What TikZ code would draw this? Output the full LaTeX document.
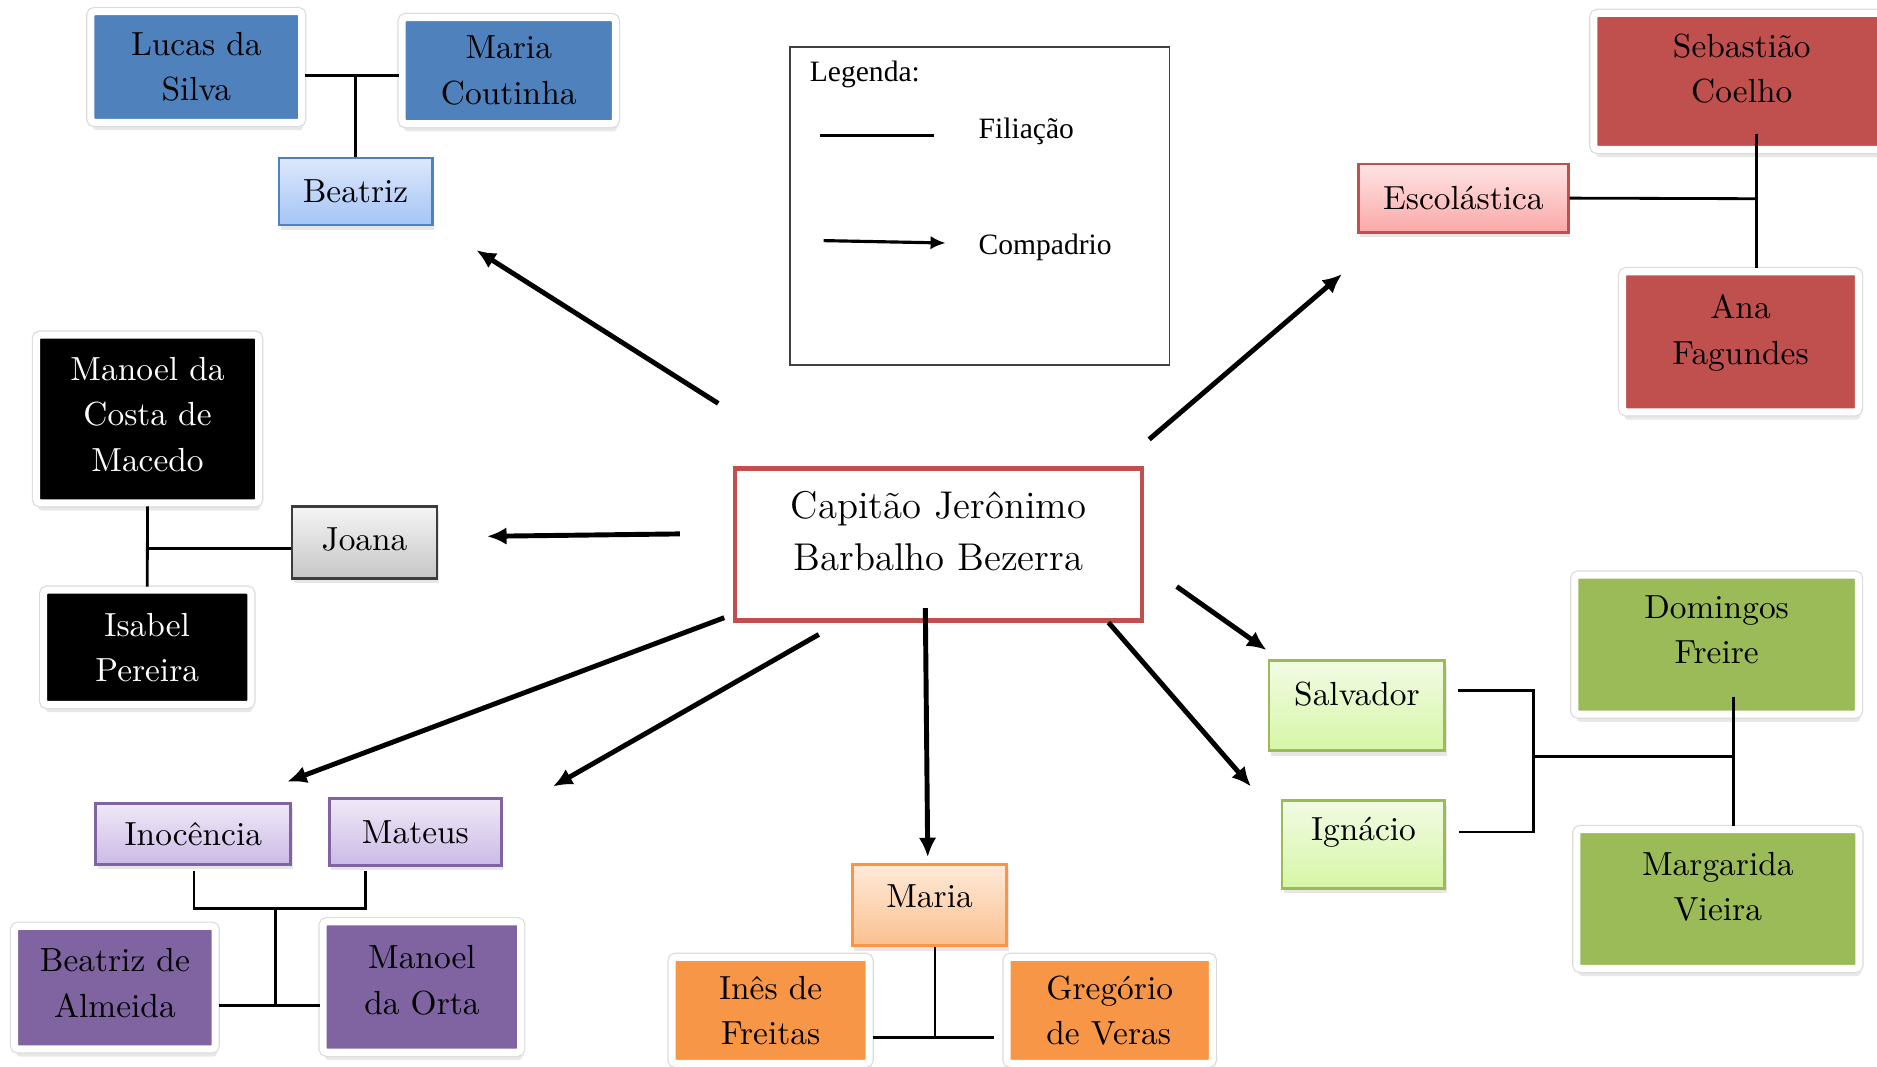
\documentclass[tikz,border=0pt]{standalone}
\usepackage{fontspec}
\newfontfamily\legfont{Liberation Serif}
\usetikzlibrary{arrows.meta,shadows}

\newlength\pxu
\setlength\pxu{0.01197cm}

\definecolor{azul}{RGB}{79,129,189}
\definecolor{azulA}{RGB}{221,232,251}
\definecolor{azulB}{RGB}{165,196,246}
\definecolor{vermelho}{RGB}{192,80,77}
\definecolor{vermelhoA}{RGB}{255,228,228}
\definecolor{vermelhoB}{RGB}{250,168,168}
\definecolor{cinza}{RGB}{60,60,60}
\definecolor{cinzaA}{RGB}{245,245,245}
\definecolor{cinzaB}{RGB}{198,198,198}
\definecolor{verde}{RGB}{155,187,89}
\definecolor{verdeA}{RGB}{242,251,228}
\definecolor{verdeB}{RGB}{214,246,166}
\definecolor{roxo}{RGB}{128,100,162}
\definecolor{roxoA}{RGB}{240,233,248}
\definecolor{roxoB}{RGB}{203,186,230}
\definecolor{laranja}{RGB}{247,150,70}
\definecolor{laranjaA}{RGB}{255,234,217}
\definecolor{laranjaB}{RGB}{250,192,143}

\tikzset{
    nome/.style={align=center, inner sep=2pt, font=\fontsize{9.5}{12.9}\selectfont},
    pessoa/.style={nome, rectangle, draw=white, line width=2pt, rounded corners=1pt,
        drop shadow={shadow xshift=0.5pt, shadow yshift=-2.2pt, opacity=0.18},
        preaction={draw=black!14, line width=2.7pt}},
    filho/.style={nome, rectangle, draw=#1, line width=0.8pt, top color=#1A, bottom color=#1B,
        drop shadow={shadow xshift=0.5pt, shadow yshift=-1.4pt, opacity=0.2}},
    sobe/.style={text depth=#1},
    filiacao/.style={line width=0.8pt},
    compadrio/.style={line width=1.4pt, -{Latex[length=5.5pt,width=5pt]}},
    legtexto/.style={anchor=west, inner sep=0pt, font=\legfont\fontsize{8.4}{10}\selectfont}
}

\begin{document}
\begin{tikzpicture}[x=0.01197cm, y=-0.01197cm]
    \useasboundingbox (0,0) rectangle (1568,891);
    \clip (0,0) rectangle (1568,891);

    % legenda
    \node[draw=black!75, line width=0.5pt, minimum width=317\pxu, minimum height=266\pxu] (legenda) at (818.5,172) {};
    \node[legtexto] (leg) at (676,62) {Legenda:};
    \node[legtexto] (fil) at (817,110) {Filiação};
    \node[legtexto] (comp) at (817,207) {Compadrio};
    \draw[filiacao] (685,113) -- (780,113);
    \draw[line width=0.9pt, -{Latex[length=4.3pt,width=3.8pt]}] (688,201) -- (790,203);

    % Beatriz
    \node[pessoa, fill=azul, minimum width=176\pxu, minimum height=92.5\pxu] (lucas) at (164,56) {Lucas da\\Silva};
    \node[pessoa, fill=azul, minimum width=178\pxu, minimum height=88.5\pxu] (mariac) at (425,59) {Maria\\Coutinha};
    \node[filho=azul, minimum width=128\pxu, minimum height=56\pxu] (beatriz) at (297,160) {Beatriz};
    \coordinate (casal1) at (297,63);
    \draw[filiacao] (lucas.east |- casal1) -- (mariac.west |- casal1);
    \draw[filiacao] (casal1) -- (beatriz.north);

    % Escolastica
    \node[pessoa, fill=vermelho, minimum width=247\pxu, minimum height=113.5\pxu, sobe=7.5pt] (sebastiao) at (1455,68) {Sebastião\\Coelho};
    \node[filho=vermelho, minimum width=175\pxu, minimum height=57\pxu] (escolastica) at (1222.5,165.5) {Escolástica};
    \node[pessoa, fill=vermelho, minimum width=197\pxu, minimum height=117\pxu, sobe=7pt] (ana) at (1454,285.5) {Ana\\Fagundes};
    \coordinate (pais2) at (1467,112);
    \coordinate (casal2) at (1467,166);
    \draw[filiacao] (pais2) -- (pais2 |- ana.north);
    \draw[filiacao] (escolastica.east) -- (casal2);

    % Joana
    \node[pessoa, fill=black, text=white, minimum width=185.5\pxu, minimum height=140\pxu, sobe=2.7pt] (manoelcm) at (123.25,350) {Manoel da\\Costa de\\Macedo};
    \node[filho=cinza, minimum width=121\pxu, minimum height=60\pxu, sobe=2pt] (joana) at (304.5,453) {Joana};
    \node[pessoa, fill=black, text=white, minimum width=173\pxu, minimum height=95.5\pxu] (isabel) at (123,540.75) {Isabel\\Pereira};
    \coordinate (casal3) at (123,458);
    \draw[filiacao] (manoelcm.south) -- (isabel.north);
    \draw[filiacao] (casal3) -- (casal3 -| joana.west);

    % capitao
    \node[draw=vermelho, line width=1.4pt, fill=white, minimum width=340\pxu, minimum height=127\pxu, align=center,
        font=\fontsize{11}{14.6}\selectfont, sobe=7.5pt] (capitao) at (784,454.5) {Capitão Jerônimo\\Barbalho Bezerra};

    % Salvador e Ignacio
    \node[filho=verde, minimum width=147\pxu, minimum height=75\pxu, sobe=7pt] (salvador) at (1133.5,589.5) {Salvador};
    \node[filho=verde, minimum width=136\pxu, minimum height=73\pxu, sobe=8.8pt] (ignacio) at (1139,705.5) {Ignácio};
    \node[pessoa, fill=verde, minimum width=237\pxu, minimum height=116\pxu, sobe=8.5pt] (domingos) at (1434,538.5) {Domingos\\Freire};
    \node[pessoa, fill=verde, minimum width=235.5\pxu, minimum height=116\pxu, sobe=7pt] (margarida) at (1435,751) {Margarida\\Vieira};
    \coordinate (irmao1) at (1218,577);
    \coordinate (irmao2) at (1219,695);
    \coordinate (irmaos) at (1281,632);
    \coordinate (pais4) at (1448,582);
    \draw[filiacao] (irmao1) -| (irmaos) |- (irmao2);
    \draw[filiacao] (irmaos) -- (irmaos -| pais4);
    \draw[filiacao] (pais4) -- (pais4 |- margarida.north);

    % Inocencia e Mateus
    \node[filho=roxo, minimum width=163\pxu, minimum height=51\pxu] (inocencia) at (161.5,696.5) {Inocência};
    \node[filho=roxo, minimum width=144\pxu, minimum height=56\pxu] (mateus) at (347,695) {Mateus};
    \node[pessoa, fill=roxo, minimum width=167.5\pxu, minimum height=102.5\pxu, sobe=2.7pt] (beatrizalm) at (96,825) {Beatriz de\\Almeida};
    \node[pessoa, fill=roxo, minimum width=165\pxu, minimum height=109\pxu, sobe=4pt] (manoelorta) at (352.5,824.5) {Manoel\\da Orta};
    \coordinate (irmao3) at (162,728);
    \coordinate (irmao4) at (305,728);
    \coordinate (filhos5) at (230,759);
    \coordinate (casal5) at (230,840);
    \draw[filiacao] (irmao3) |- (filhos5) -| (irmao4);
    \draw[filiacao] (filhos5) -- (casal5);
    \draw[filiacao] (beatrizalm.east |- casal5) -- (manoelorta.west |- casal5);

    % Maria
    \node[filho=laranja, minimum width=129\pxu, minimum height=68\pxu, sobe=4.8pt] (maria) at (776.5,756) {Maria};
    \node[pessoa, fill=laranja, minimum width=164.5\pxu, minimum height=88.5\pxu] (ines) at (643.75,844) {Inês de\\Freitas};
    \node[pessoa, fill=laranja, minimum width=171.5\pxu, minimum height=88.5\pxu, align=left, xshift=-4\pxu] (gregorio) at (931,844) {Gregório\\de Veras};
    \coordinate (casal6) at (781,867);
    \draw[filiacao] (maria.south -| casal6) -- (casal6);
    \draw[filiacao, shorten >=2.7pt] (ines.east |- casal6) -- (gregorio.west |- casal6);

    % compadrio
    \coordinate (s1) at (600,337);  \coordinate (e1) at (398,209);
    \coordinate (s2) at (960,367);  \coordinate (e2) at (1121,229);
    \coordinate (s3) at (568,446);  \coordinate (e3) at (407,448);
    \coordinate (s4) at (983,490);  \coordinate (e4) at (1058,543);
    \coordinate (s5) at (926,520);  \coordinate (e5) at (1045,657);
    \coordinate (s6) at (773,508);  \coordinate (e6) at (775,716);
    \coordinate (s7) at (684,530);  \coordinate (e7) at (462,657);
    \coordinate (s8) at (605,516);  \coordinate (e8) at (240,653);
    \foreach \n in {1,...,8}
        \draw[compadrio] (s\n) -- (e\n);
\end{tikzpicture}
\end{document}
